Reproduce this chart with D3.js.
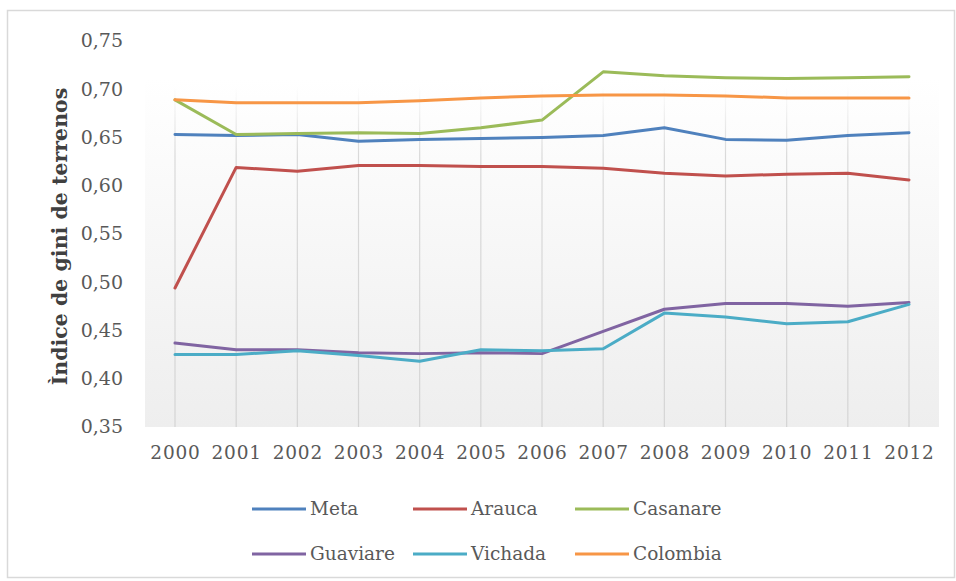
<!DOCTYPE html>
<html>
<head>
<meta charset="utf-8">
<script src="https://cdn.jsdelivr.net/npm/d3@7"></script>
<style>
  html, body { margin: 0; padding: 0; background: #fff; }
  svg { display: block; }
</style>
</head>
<body>
<svg id="chart" width="956" height="581"></svg>
<script>
// Gini index of land holdings by department, 2000–2012
const years = ["2000","2001","2002","2003","2004","2005","2006","2007","2008","2009","2010","2011","2012"];
const seriesNames = ["Meta","Arauca","Casanare","Guaviare","Vichada","Colombia"];
const meta     = [0.652,0.651,0.652,0.645,0.647,0.648,0.649,0.651,0.659,0.647,0.646,0.651,0.654];
const arauca   = [0.493,0.618,0.614,0.620,0.620,0.619,0.619,0.617,0.612,0.609,0.611,0.612,0.605];
const casanare = [0.688,0.652,0.653,0.654,0.653,0.659,0.667,0.717,0.713,0.711,0.710,0.711,0.712];
const guaviare = [0.436,0.429,0.429,0.426,0.425,0.426,0.425,0.448,0.471,0.477,0.477,0.474,0.478];
const vichada  = [0.424,0.424,0.428,0.423,0.417,0.429,0.428,0.430,0.467,0.463,0.456,0.458,0.476];
const colombia = [0.688,0.685,0.685,0.685,0.687,0.690,0.692,0.693,0.693,0.692,0.690,0.690,0.690];
const yTicks = [0.35,0.40,0.45,0.50,0.55,0.60,0.65,0.70,0.75];
const yTitle = "Ìndice de gini de terrenos";

const seriesValues = [meta, arauca, casanare, guaviare, vichada, colombia];
const colors = ["#4F81BD","#C0504D","#9BBB59","#8064A2","#4BACC6","#F79646"];

const svg = d3.select("#chart");
const plot = { left: 145, right: 939, top: 40, bottom: 427 };

const x = d3.scalePoint().domain(years).range([175, 909]);
const y = d3.scaleLinear().domain([0.35, 0.75]).range([426, 40]);
const fmt = v => d3.format(".2f")(v).replace(".", ",");

const defs = svg.append("defs");
const bg = defs.append("linearGradient").attr("id", "plotBg")
  .attr("x1", 0).attr("y1", 0).attr("x2", 0).attr("y2", 1);
bg.append("stop").attr("offset", "0%").attr("stop-color", "#ffffff");
bg.append("stop").attr("offset", "10%").attr("stop-color", "#ffffff");
bg.append("stop").attr("offset", "100%").attr("stop-color", "#eeeeee");

const gridGrad = defs.append("linearGradient").attr("id", "gridFade")
  .attr("gradientUnits", "userSpaceOnUse")
  .attr("x1", 0).attr("y1", plot.top).attr("x2", 0).attr("y2", plot.bottom);
gridGrad.append("stop").attr("offset", "0%").attr("stop-color", "#d9d9d9").attr("stop-opacity", 0);
gridGrad.append("stop").attr("offset", "12%").attr("stop-color", "#d9d9d9").attr("stop-opacity", 0);
gridGrad.append("stop").attr("offset", "30%").attr("stop-color", "#d9d9d9").attr("stop-opacity", 1);
gridGrad.append("stop").attr("offset", "100%").attr("stop-color", "#d4d4d4").attr("stop-opacity", 1);

// chart frame
svg.append("rect")
  .attr("x", 7.5).attr("y", 10.5).attr("width", 947).attr("height", 567)
  .attr("fill", "#fff").attr("stroke", "#d9d9d9").attr("stroke-width", 1.5);

// plot area
svg.append("rect")
  .attr("x", plot.left).attr("y", plot.top)
  .attr("width", plot.right - plot.left).attr("height", plot.bottom - plot.top)
  .attr("fill", "url(#plotBg)");

// vertical gridlines at each category
svg.append("g").selectAll("line").data(years).join("line")
  .attr("x1", d => x(d)).attr("x2", d => x(d))
  .attr("y1", plot.top).attr("y2", plot.bottom)
  .attr("stroke", "url(#gridFade)").attr("stroke-width", 1.2);

// y axis labels
const yAxis = svg.append("g").attr("transform", "translate(123,0)")
  .call(d3.axisLeft(y).tickValues(yTicks).tickFormat(fmt).tickSize(0).tickPadding(0));
yAxis.select(".domain").remove();
yAxis.selectAll("text")
  .attr("font-family", "DejaVu Serif").attr("font-size", 19)
  .attr("fill", "#595959").attr("dy", "0.36em");

// x axis labels
const xAxis = svg.append("g").attr("transform", "translate(0,441)")
  .call(d3.axisBottom(x).tickSize(0).tickPadding(0));
xAxis.select(".domain").remove();
xAxis.selectAll("text")
  .attr("font-family", "DejaVu Serif").attr("font-size", 18.5)
  .attr("letter-spacing", 0.8)
  .attr("fill", "#595959").attr("dy", "0.95em");

// y axis title
svg.append("text")
  .attr("transform", `translate(67,${(plot.top + plot.bottom) / 2 + 3}) rotate(-90)`)
  .attr("text-anchor", "middle")
  .attr("font-family", "DejaVu Serif").attr("font-weight", "bold")
  .attr("font-size", 20.5).attr("fill", "#404040")
  .text(yTitle);

// series lines
const line = d3.line().x((d, i) => x(years[i])).y(d => y(d));
svg.append("g").selectAll("path").data(seriesValues).join("path")
  .attr("d", d => line(d))
  .attr("fill", "none")
  .attr("stroke", (d, i) => colors[i])
  .attr("stroke-width", 3)
  .attr("stroke-linejoin", "round")
  .attr("stroke-linecap", "round");

// legend: two rows of three
const legendCols = [252, 413, 575];
const legendRows = [509, 554];
const legend = svg.append("g").selectAll("g").data(seriesNames).join("g")
  .attr("transform", (d, i) => `translate(${legendCols[i % 3]},${legendRows[Math.floor(i / 3)]})`);
legend.append("line")
  .attr("x1", 0).attr("x2", 54).attr("y1", 0).attr("y2", 0)
  .attr("stroke", (d, i) => colors[i]).attr("stroke-width", 3);
legend.append("text")
  .attr("x", 58).attr("y", 0).attr("dy", "0.35em")
  .attr("font-family", "DejaVu Serif").attr("font-size", 18.5)
  .attr("fill", "#595959")
  .text(d => d);
</script>
</body>
</html>
